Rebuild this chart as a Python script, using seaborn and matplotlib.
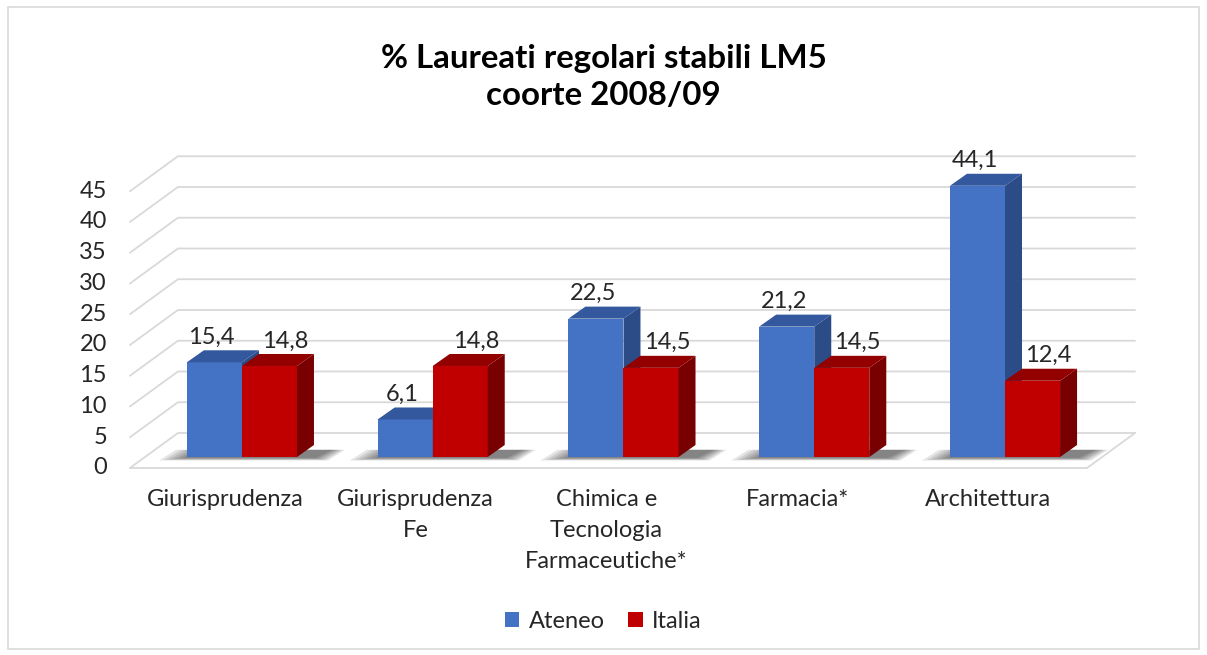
import matplotlib
matplotlib.use("Agg")
import pandas as pd
import matplotlib.pyplot as plt
import seaborn as sns
from matplotlib.patches import Polygon, Rectangle

# Data
categories = ["Giurisprudenza", "Giurisprudenza\nFe", "Chimica e\nTecnologia\nFarmaceutiche*",
              "Farmacia*", "Architettura"]
series = ["Ateneo", "Italia"]
ateneo = [15.4, 6.1, 22.5, 21.2, 44.1]
italia = [14.8, 14.8, 14.5, 14.5, 12.4]
y_ticks = [0, 5, 10, 15, 20, 25, 30, 35, 40, 45]

df = pd.DataFrame({
    "corso": categories * 2,
    "serie": [series[0]] * len(ateneo) + [series[1]] * len(italia),
    "valore": ateneo + italia,
})

front_col = {"Ateneo": "#4472C4", "Italia": "#C00000"}
side_col = {"Ateneo": "#2B4C86", "Italia": "#780000"}
top_col = {"Ateneo": "#33589E", "Italia": "#930000"}
grid_col = "#D9D9D9"
txt_col = "#262626"
fs = 17

sns.set_theme(style="white")
plt.rcParams["font.family"] = ["Lato", "DejaVu Sans"]

W, H = 1207, 655
fig = plt.figure(figsize=(W / 100, H / 100), dpi=100)
# axes spans pixels x 100..1150, y 145..480
ax = fig.add_axes([100 / W, (H - 480) / H, 1050 / W, 335 / H])
sns.barplot(data=df, x="corso", y="valore", hue="serie", palette=front_col,
            width=0.577, saturation=1, linewidth=0, legend=False, ax=ax)
ax.set_xlim(-0.744, 4.760)
ax.set_ylim(-3.74, 50.73)
ax.axis("off")

# pseudo 3D geometry (data units)
px_x = 190.75   # pixels per category
px_y = 6.15     # pixels per value unit
dx, dy = 17 / px_x, 12 / px_y
front_off, back_off = -11 / px_y, 24 / px_y
xf0, xb0 = (130 - 242) / px_x, (178 - 242) / px_x
xb1 = (1135 - 242) / px_x
xf1 = xb1 - (xb0 - xf0)

# walls: gridlines on the back wall and the left side
for v in y_ticks:
    ax.plot([xf0, xb0, xb1], [v + front_off, v + back_off, v + back_off],
            color=grid_col, lw=1.3, zorder=1, solid_joinstyle="miter")
ax.plot([xf0, xf1, xb1], [front_off, front_off, back_off], color=grid_col, lw=1.3, zorder=1)

# y tick labels on the front edge
for v in y_ticks:
    ax.text((107 - 100) / 1050, v + front_off, str(v), transform=ax.get_yaxis_transform(),
            ha="right", va="center", fontsize=fs, color=txt_col)

# bars: faces and labels
lab_shift = {"Ateneo": -3 / px_x, "Italia": 16 / px_x}
for k, (name, cont) in enumerate(zip(series, ax.containers)):
    z = 3 + 2 * k
    for p in cont.patches:
        x0, w, h = p.get_x(), p.get_width(), p.get_height()
        p.set_zorder(z)
        side = Polygon([(x0 + w, 0), (x0 + w + dx, dy), (x0 + w + dx, h + dy), (x0 + w, h)],
                       closed=True, facecolor=side_col[name], edgecolor="none", zorder=z + 0.5)
        top = Polygon([(x0, h), (x0 + dx, h + dy), (x0 + w + dx, h + dy), (x0 + w, h)],
                      closed=True, facecolor=top_col[name], edgecolor="none", zorder=z + 0.5)
        ax.add_patch(side)
        ax.add_patch(top)
        lab = f"{h:.1f}".replace(".", ",")
        ax.text(x0 + w / 2 + lab_shift[name], h + dy + 13 / px_y, lab, ha="center",
                va="center", fontsize=fs, color=txt_col, zorder=10)

# soft floor shadow under each pair of bars
bars_a = ax.containers[0].patches
bars_i = ax.containers[1].patches
for pa, pi in zip(bars_a, bars_i):
    xl = pa.get_x()
    xr = pi.get_x() + pi.get_width() + dx
    for e in range(6):
        ex = (3 + 5 * e) / px_x
        ey = (1 + 0.5 * e) / px_y
        shadow = Polygon([(xl - ex, -ey), (xr + ex * 0.5, -ey), (xr + ex * 0.5 + dx, dy * 0.6),
                          (xl - ex + dx, dy * 0.6)],
                         closed=True, facecolor="black", edgecolor="none", alpha=0.1, zorder=2)
        ax.add_patch(shadow)

# category labels (front edge, shifted left)
for i, c in enumerate(categories):
    ax.text(i - 17 / px_x, (457 - 489) / px_y, c, ha="center", va="top", fontsize=fs,
            color=txt_col, linespacing=1.58, clip_on=False)

# title
fig.text(0.5, 1 - 77 / H, "% Laureati regolari stabili LM5\ncoorte 2008/09", ha="center",
         va="center", fontsize=23.8, fontweight="bold", color="black", linespacing=1.3)

# legend
handles = [Rectangle((0, 0), 1, 1, facecolor=front_col[s], edgecolor="none") for s in series]
fig.legend(handles, series, loc="center", bbox_to_anchor=(0.5, 1 - 621 / H), ncol=2,
           frameon=False, fontsize=fs, handlelength=0.6, handleheight=0.6,
           handletextpad=0.4, columnspacing=1.0, labelcolor=txt_col)

# outer chart frame
fig.patches.append(Rectangle((8 / W, 6 / H), (1199 - 8) / W, (648 - 6) / H,
                             transform=fig.transFigure, fill=False, edgecolor=grid_col, lw=1.2))

fig.savefig("out.png", dpi=100)
